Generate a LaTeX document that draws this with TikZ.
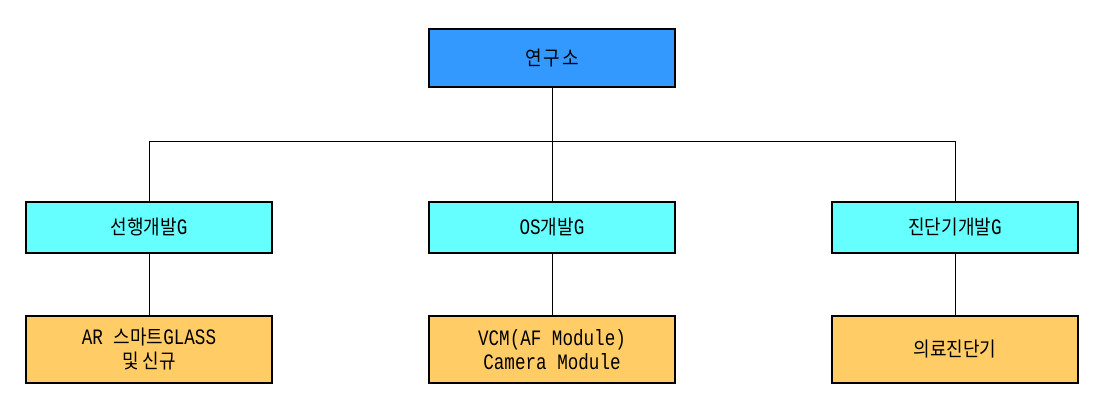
\documentclass[tikz,border=0pt]{standalone}
\usepackage{fontspec}
\setmainfont[Scale=1.1,FakeStretch=0.8]{Liberation Mono}
\newfontfamily\kr[FakeStretch=0.9]{Noto Sans CJK KR}
\newfontfamily\krwide[FakeStretch=0.9,LetterSpace=10]{Noto Sans CJK KR}
\usetikzlibrary{positioning}

\definecolor{labblue}{HTML}{3399FF}
\definecolor{grpcyan}{HTML}{66FFFF}
\definecolor{suborange}{HTML}{FFCC66}

\begin{document}
\begin{tikzpicture}[x=1pt,y=1pt,
	orgbox/.style={draw=black,line width=2pt,minimum width=246pt,inner sep=0pt,align=center,font=\fontsize{20}{24}\selectfont},
	labbox/.style={orgbox,fill=labblue,minimum height=58pt},
	grpbox/.style={orgbox,fill=grpcyan,minimum height=51pt},
	subbox/.style={orgbox,fill=suborange,minimum height=67pt},
	link/.style={line width=1pt}]
	\useasboundingbox[fill=white] (0,0) rectangle (1107,-415);

	\node[labbox] (lab) at (552,-57.7) {\krwide 연구소};		%top

	\node[grpbox] (grpA) at (149,-227.3) {\kr 선행개발\rmfamily G};
	\node[grpbox] (grpB) at (552,-227.3) {OS\kr 개발\rmfamily G};
	\node[grpbox] (grpC) at (955,-227.3) {\kr 진단기개발\rmfamily G};

	\node[subbox] (subA) at (149,-349.2) {AR {\kr 스마트}GLASS\\{\kr 및 신규}};
	\node[subbox] (subB) at (552,-349.2) {VCM(AF Module)\\Camera Module};
	\node[subbox] (subC) at (955,-349.2) {\kr 의료진단기};

	%connectors
	\coordinate (bus) at (552,-141.7);
	\draw[link] (lab.south)--(bus);
	\draw[link] (grpA.north)--(grpA.north |- bus)--(grpC.north |- bus)--(grpC.north);
	\draw[link] (bus)--(grpB.north);
	\draw[link] (grpA.south)--(subA.north);
	\draw[link] (grpB.south)--(subB.north);
	\draw[link] (grpC.south)--(subC.north);
\end{tikzpicture}
\end{document}
